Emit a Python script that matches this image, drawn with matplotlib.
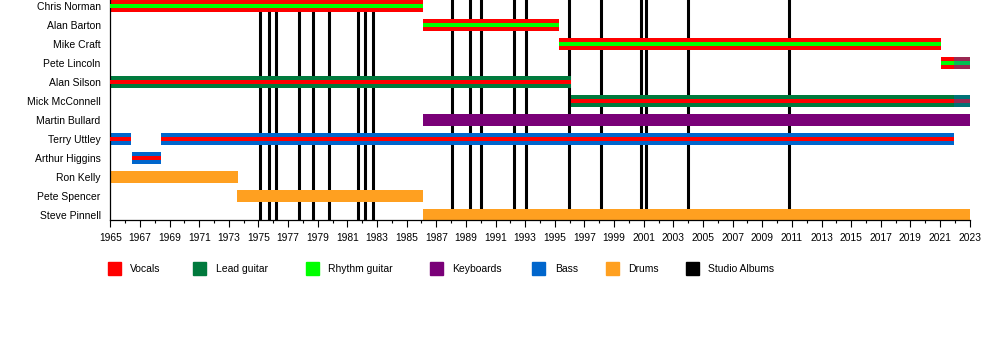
import matplotlib
matplotlib.use("Agg")
import matplotlib.pyplot as plt
from matplotlib.patches import Rectangle

plt.rcParams['font.family'] = ['Liberation Sans', 'DejaVu Sans']

# Band members, top to bottom
members = ["Chris Norman", "Alan Barton", "Mike Craft", "Pete Lincoln",
           "Alan Silson", "Mick McConnell", "Martin Bullard", "Terry Uttley",
           "Arthur Higgins", "Ron Kelly", "Pete Spencer", "Steve Pinnell"]

# Roles and colours
roles = ["Vocals", "Lead guitar", "Rhythm guitar", "Keyboards", "Bass", "Drums", "Studio Albums"]
role_colors = {"Vocals": "#ff0000", "Lead guitar": "#007a3d", "Rhythm guitar": "#00ff00",
               "Keyboards": "#7a0078", "Bass": "#0066cc", "Drums": "#ffa020",
               "Studio Albums": "#000000"}

# Tenures: (member, start, end, main role, secondary role)
tenure_member = ["Chris Norman", "Alan Barton", "Mike Craft", "Pete Lincoln",
                 "Alan Silson", "Mick McConnell", "Martin Bullard",
                 "Terry Uttley", "Terry Uttley", "Arthur Higgins",
                 "Ron Kelly", "Pete Spencer", "Steve Pinnell"]
tenure_start = [1965.0, 1986.08, 1995.26, 2021.04,
                1965.0, 1996.07, 1986.08,
                1965.0, 1968.40, 1966.48,
                1965.0, 1973.58, 1986.08]
tenure_end = [1986.08, 1995.26, 2021.04, 2023.0,
              1996.07, 2023.0, 2023.0,
              1966.40, 2021.96, 1968.40,
              1973.62, 1986.08, 2023.0]
tenure_main = ["Vocals", "Vocals", "Vocals", "Vocals",
               "Lead guitar", "Lead guitar", "Keyboards",
               "Bass", "Bass", "Bass",
               "Drums", "Drums", "Drums"]
tenure_second = ["Rhythm guitar", "Rhythm guitar", "Rhythm guitar", "Rhythm guitar",
                 "Vocals", "Vocals", None,
                 "Vocals", "Vocals", "Vocals",
                 None, None, None]

# Bass duties shared after 2021
extra_member = ["Pete Lincoln", "Mick McConnell"]
extra_start = [2021.96, 2021.96]
extra_end = [2023.0, 2023.0]

# Studio album release dates
albums = [1975.12, 1975.69, 1976.20, 1977.76, 1978.70, 1979.78, 1981.70,
          1982.17, 1982.73, 1988.08, 1989.30, 1990.04, 1992.27, 1993.08,
          1995.98, 1998.14, 2000.84, 2001.15, 2004.01, 2010.83]

year_min, year_max = 1965, 2023

fig = plt.figure(figsize=(10, 3.45), dpi=100)
ax = fig.add_axes([0.1103, 1 - 220.3 / 345, 0.8594, 220.3 / 345])

row = {m: i for i, m in enumerate(members)}
bar_h = 0.616
inner_h = 0.22

for x in albums:
    ax.axvline(x, color=role_colors["Studio Albums"], lw=2.2, zorder=1)

for m, s, e, r1, r2 in zip(tenure_member, tenure_start, tenure_end, tenure_main, tenure_second):
    y = row[m]
    ax.barh(y, e - s, left=s, height=bar_h, color=role_colors[r1], lw=0, zorder=2)
    if r2:
        ax.barh(y, e - s, left=s, height=inner_h, color=role_colors[r2], lw=0, zorder=3)

for m, s, e in zip(extra_member, extra_start, extra_end):
    ax.barh(row[m], e - s, left=s, height=bar_h, color=role_colors["Bass"],
            alpha=0.4, lw=0, zorder=4)

ax.set_xlim(year_min, year_max)
ax.set_ylim(11 + 5.45 / 19, -5.85 / 19)
ax.set_yticks(range(len(members)))
ax.set_yticklabels(members, fontsize=7.5)
ax.tick_params(axis='y', length=0, pad=7)
ax.set_xticks(range(year_min, year_max + 1, 2))
ax.set_xticks(range(year_min, year_max + 1), minor=True)
ax.tick_params(axis='x', which='major', length=5, width=0.8, labelsize=7.4, pad=4)
ax.tick_params(axis='x', which='minor', length=2.5, width=0.8)
for side in ["top", "right"]:
    ax.spines[side].set_visible(False)
for side in ["left", "bottom"]:
    ax.spines[side].set_linewidth(0.9)

# Legend row
legend_x = [107.7, 193.3, 306.0, 430.0, 532.3, 606.0, 686.0]
for r, lx in zip(roles, legend_x):
    fig.patches.append(Rectangle((lx / 1000, (345 - 275) / 345), 13 / 1000, 13 / 345,
                                 transform=fig.transFigure, color=role_colors[r]))
    fig.text((lx + 22.5) / 1000, (345 - 269) / 345, r, fontsize=7.5, va='center', ha='left')

fig.savefig("out.png", dpi=100, facecolor="white")
